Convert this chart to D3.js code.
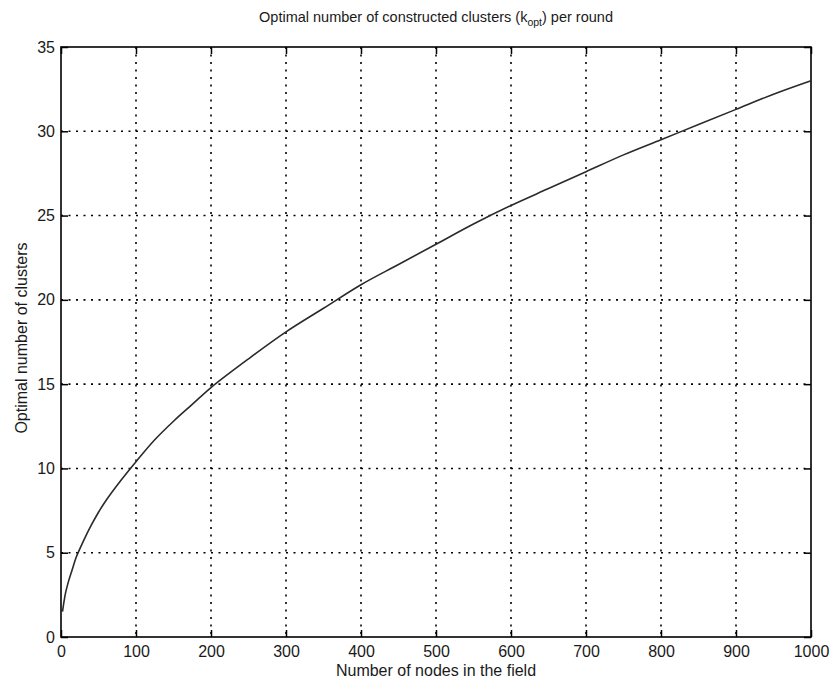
<!DOCTYPE html>
<html>
<head>
<meta charset="utf-8">
<script src="https://cdn.jsdelivr.net/npm/d3@7"></script>
<style>
  html, body { margin: 0; padding: 0; background: #fff; }
  svg { display: block; }
  text, tspan { font-family: "Liberation Sans", Arial, sans-serif; fill: #1a1a1a; }
</style>
</head>
<body>
<svg id="chart" width="831" height="682"></svg>
<script>
// Number of nodes in the field
const nodes = [2, 4, 6, 10, 15, 20, 30, 40, 50, 60, 80, 100, 125, 150, 175, 200, 250, 300, 350, 400, 450, 500, 550, 600, 650, 700, 750, 800, 850, 900, 950, 1000];
// Optimal number of clusters per round
const kOpt = [1.5, 2.1, 2.6, 3.3, 4.0, 4.7, 5.7, 6.6, 7.4, 8.1, 9.3, 10.4, 11.7, 12.8, 13.8, 14.8, 16.5, 18.1, 19.5, 20.9, 22.1, 23.3, 24.5, 25.6, 26.6, 27.6, 28.6, 29.5, 30.4, 31.3, 32.2, 33.0];
const xTicks = [0, 100, 200, 300, 400, 500, 600, 700, 800, 900, 1000];
const yTicks = [0, 5, 10, 15, 20, 25, 30, 35];

const margin = { left: 61, right: 20, top: 47, bottom: 45 };
const W = 831, H = 682;
const svg = d3.select("#chart");

const x = d3.scaleLinear().domain([0, 1000]).range([margin.left, W - margin.right]);
const y = d3.scaleLinear().domain([0, 35]).range([H - margin.bottom, margin.top]);

const x0 = x.range()[0], x1 = x.range()[1];
const y0 = y.range()[0], y1 = y.range()[1];

// dotted grid
const grid = svg.append("g").attr("stroke", "#000").attr("stroke-width", 1.6)
  .attr("stroke-dasharray", "2,5.5");
grid.selectAll("line.vx").data(xTicks.slice(1, -1)).join("line")
  .attr("x1", d => x(d)).attr("x2", d => x(d)).attr("y1", y1).attr("y2", y0);
grid.selectAll("line.hy").data(yTicks.slice(1, -1)).join("line")
  .attr("x1", x0).attr("x2", x1).attr("y1", d => y(d)).attr("y2", d => y(d));

// axes with inward ticks
const tl = 7;
svg.append("g").attr("transform", `translate(0,${y0})`)
  .call(d3.axisBottom(x).tickValues(xTicks).tickSize(-tl).tickPadding(9).tickFormat(d3.format("d")))
  .call(g => g.select(".domain").remove());
svg.append("g").attr("transform", `translate(${x0},0)`)
  .call(d3.axisLeft(y).tickValues(yTicks).tickSize(-tl).tickPadding(6).tickFormat(d3.format("d")))
  .call(g => g.select(".domain").remove());
svg.append("g").attr("transform", `translate(0,${y1})`)
  .call(d3.axisTop(x).tickValues(xTicks).tickSize(-tl).tickFormat(""))
  .call(g => g.select(".domain").remove());
svg.append("g").attr("transform", `translate(${x1},0)`)
  .call(d3.axisRight(y).tickValues(yTicks).tickSize(-tl).tickFormat(""))
  .call(g => g.select(".domain").remove());

svg.selectAll(".tick line").attr("stroke", "#000").attr("stroke-width", 1.5);
svg.selectAll(".tick text").attr("font-size", 16).attr("fill", "#1a1a1a")
  .attr("font-family", "'Liberation Sans', Arial, sans-serif");

// frame
svg.append("rect").attr("x", x0).attr("y", y1).attr("width", x1 - x0).attr("height", y0 - y1)
  .attr("fill", "none").attr("stroke", "#000").attr("stroke-width", 1.6);

// curve
const line = d3.line().x((d, i) => x(nodes[i])).y(d => y(d)).curve(d3.curveCatmullRom.alpha(0.5));
svg.append("path").datum(kOpt).attr("d", line)
  .attr("fill", "none").attr("stroke", "#2a2a2a").attr("stroke-width", 1.6);

// title
const title = svg.append("text").attr("x", (x0 + x1) / 2).attr("y", 22)
  .attr("text-anchor", "middle").attr("font-size", 14.5).attr("fill", "#1a1a1a");
title.append("tspan").attr("fill", "#1a1a1a").text("Optimal number of constructed clusters (k");
title.append("tspan").attr("fill", "#1a1a1a").attr("font-size", 10.5).attr("dy", 4).text("opt");
title.append("tspan").attr("fill", "#1a1a1a").attr("dy", -4).text(") per round");

// axis labels
svg.append("text").attr("x", (x0 + x1) / 2).attr("y", 676)
  .attr("text-anchor", "middle").attr("font-size", 16).text("Number of nodes in the field");
svg.append("text").attr("transform", `translate(27,${(y0 + y1) / 2 - 4}) rotate(-90)`)
  .attr("text-anchor", "middle").attr("font-size", 16).text("Optimal number of clusters");
</script>
</body>
</html>
